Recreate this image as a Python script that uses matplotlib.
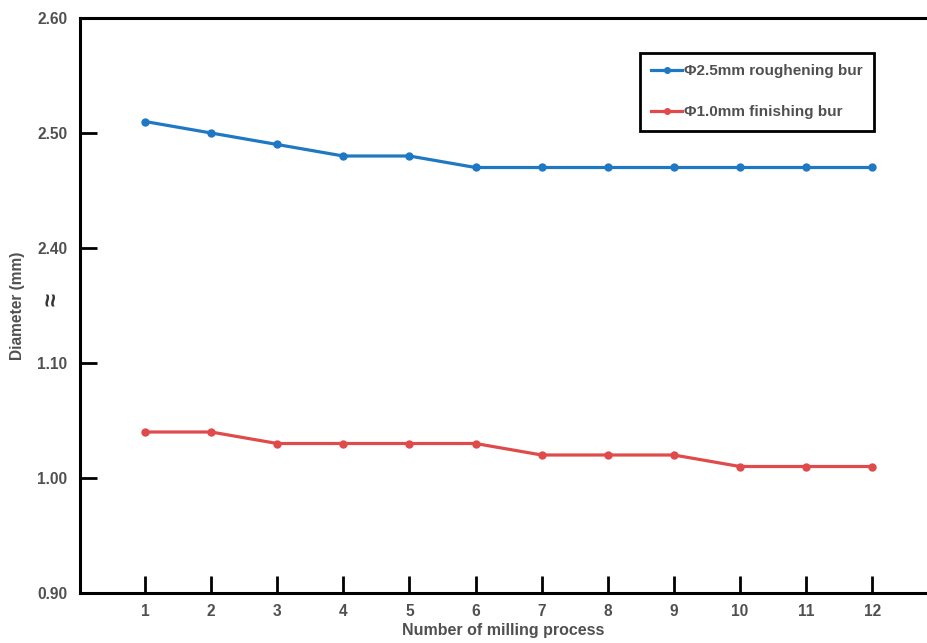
import matplotlib
matplotlib.use("Agg")
import matplotlib.pyplot as plt
import numpy as np

plt.rcParams["font.family"] = ["Liberation Sans", "DejaVu Sans"]
plt.rcParams["font.weight"] = "bold"

runs = list(range(1, 13))
roughening = [2.51, 2.50, 2.49, 2.48, 2.48, 2.47, 2.47, 2.47, 2.47, 2.47, 2.47, 2.47]
finishing = [1.04, 1.04, 1.03, 1.03, 1.03, 1.03, 1.02, 1.02, 1.02, 1.01, 1.01, 1.01]
ytick_values = [0.90, 1.00, 1.10, 2.40, 2.50, 2.60]
series_labels = ["Φ2.5mm roughening bur", "Φ1.0mm finishing bur"]

# broken y axis: 0.9-1.1 and 2.4-2.6 on one evenly spaced scale
break_real = np.array([0.9, 1.1, 2.4, 2.6])
break_disp = np.array([0.0, 2.0, 3.0, 5.0])


def forward(v):
    return np.interp(v, break_real, break_disp, left=-1e9, right=1e9)


def inverse(v):
    return np.interp(v, break_disp, break_real)


text_color = "#505050"
blue = "#1f78c3"
red = "#e04a4a"

fig = plt.figure(figsize=(9.27, 6.43), dpi=100)
ax = fig.add_axes([80 / 927, 50 / 643, 847 / 927, 575 / 643])
ax.set_yscale("function", functions=(forward, inverse))

ax.plot(runs, roughening, color=blue, lw=2.3, marker="o", ms=5, label=series_labels[0])
ax.plot(runs, finishing, color=red, lw=2.3, marker="o", ms=5, label=series_labels[1])

ax.set_xlim(0.017, 12.83)
ax.set_ylim(0.9, 2.6)
ax.set_xticks(runs)
ax.set_yticks(ytick_values)
ax.set_yticklabels([f"{v:.2f}" for v in ytick_values])
ax.yaxis.set_minor_locator(matplotlib.ticker.NullLocator())

ax.spines["right"].set_visible(False)
for side in ["left", "top", "bottom"]:
    ax.spines[side].set_linewidth(2.2)
ax.tick_params(direction="in", length=12, width=2, colors="black",
               labelcolor=text_color, labelsize=11.2)
ax.tick_params(axis="y", pad=9)
ax.tick_params(axis="x", pad=8)

ax.set_xlabel("Number of milling process", fontsize=11.5, color=text_color,
              fontweight="bold", labelpad=3)
ax.set_ylabel("Diameter (mm)", fontsize=11.2, color=text_color,
              fontweight="bold", labelpad=9)

# break marker between 1.10 and 2.40
fig.text(52 / 927, 1 - 300 / 643, "≈", rotation=90, ha="center", va="center",
         fontsize=17, color="#333333", fontweight="bold")

leg = ax.legend(loc="upper right", bbox_to_anchor=(874 / 927, 1 - 53 / 643),
                bbox_transform=fig.transFigure, fancybox=False, framealpha=1,
                edgecolor="black", fontsize=11, handlelength=2.05,
                handletextpad=0.1, labelspacing=1.75, borderpad=0.75,
                borderaxespad=0, markerscale=0.8)
leg.get_frame().set_linewidth(2)
for t in leg.get_texts():
    t.set_color(text_color)

fig.savefig("out.png", dpi=100)
